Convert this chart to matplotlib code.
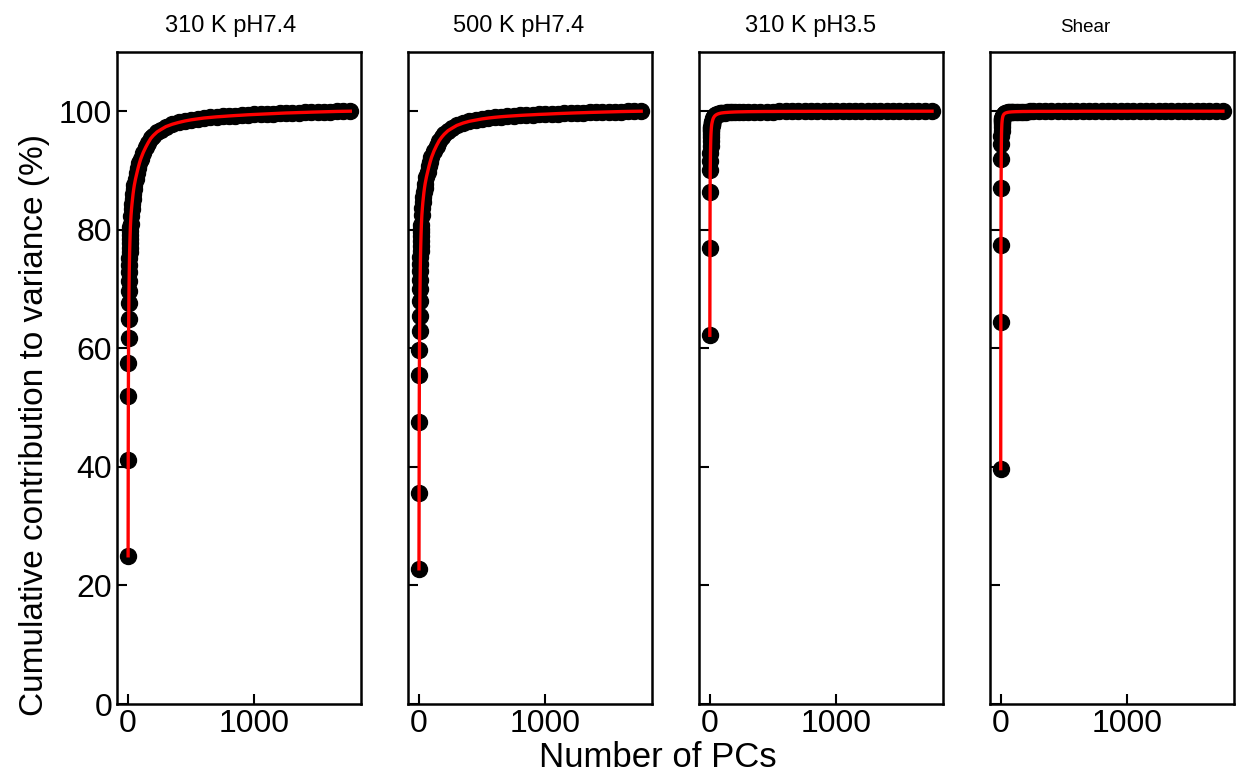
"""Cumulative variance explained by PCs for four simulation conditions."""

import matplotlib
matplotlib.use("Agg")
import matplotlib.pyplot as plt

plt.rcParams["font.family"] = ["Liberation Sans", "DejaVu Sans"]

titles = ["310 K pH7.4", "500 K pH7.4", "310 K pH3.5", "Shear"]
title_sizes = [17, 17, 17, 13.5]
title_x = [0.465, 0.455, 0.457, 0.39]

# PC index at which each cumulative value was read
pcs = list(range(1, 21)) + [24, 28, 32, 36, 40, 45, 50, 60, 70, 80, 90, 100,
                            120, 140, 160, 180, 200, 230, 260, 300] + \
      list(range(350, 1701, 50)) + [1758]

cum_310_ph74 = [
    25.0, 41.2, 52.0, 57.6, 61.8, 65.0, 67.6, 69.7, 71.4, 72.9,
    74.1, 75.2, 76.2, 77.0, 77.8, 78.5, 79.2, 79.8, 80.4, 80.9,
    82.4, 83.5, 84.4, 85.2, 86.0, 86.8, 87.5, 88.6, 89.5, 90.4,
    91.2, 91.9, 93.0, 93.9, 94.7, 95.4, 95.9, 96.5, 96.9, 97.4,
    97.8, 98.1, 98.35, 98.55, 98.7, 98.85, 98.95, 99.05, 99.12, 99.2,
    99.27, 99.33, 99.4, 99.45, 99.5, 99.55, 99.6, 99.65, 99.7, 99.73,
    99.77, 99.8, 99.84, 99.87, 99.9, 99.93, 99.96, 99.98, 100.0,
]
cum_500_ph74 = [
    22.8, 35.6, 47.6, 55.5, 59.7, 62.9, 65.5, 68.0, 70.0, 71.6,
    73.0, 74.3, 75.4, 76.4, 77.3, 78.1, 78.9, 79.6, 80.2, 80.8,
    82.5, 83.7, 84.7, 85.5, 86.3, 87.1, 87.8, 88.9, 89.8, 90.7,
    91.5, 92.2, 93.3, 94.2, 95.0, 95.6, 96.1, 96.7, 97.1, 97.6,
    98.0, 98.3, 98.5, 98.7, 98.85, 98.97, 99.07, 99.15, 99.22, 99.29,
    99.35, 99.4, 99.46, 99.5, 99.55, 99.6, 99.64, 99.68, 99.72, 99.75,
    99.79, 99.82, 99.85, 99.88, 99.91, 99.94, 99.96, 99.98, 100.0,
]
cum_310_ph35 = [
    62.2, 77.0, 86.4, 90.0, 91.6, 93.0, 94.1, 95.0, 95.7, 96.2,
    96.6, 96.9, 97.2, 97.4, 97.6, 97.75, 97.9, 98.0, 98.1, 98.2,
    98.55, 98.8, 98.95, 99.1, 99.2, 99.3, 99.38, 99.5, 99.58, 99.64,
    99.69, 99.72, 99.77, 99.8, 99.83, 99.85, 99.87, 99.89, 99.9, 99.92,
    99.93, 99.94, 99.95, 99.95, 99.96, 99.96, 99.97, 99.97, 99.97, 99.98,
    99.98, 99.98, 99.98, 99.99, 99.99, 99.99, 99.99, 99.99, 99.99, 99.99,
    100.0, 100.0, 100.0, 100.0, 100.0, 100.0, 100.0, 100.0, 100.0,
]
cum_shear = [
    39.7, 64.4, 77.4, 87.1, 92.0, 94.4, 95.8, 96.7, 97.3, 97.8,
    98.1, 98.35, 98.55, 98.7, 98.85, 98.95, 99.05, 99.12, 99.2, 99.25,
    99.42, 99.53, 99.6, 99.66, 99.7, 99.74, 99.77, 99.82, 99.85, 99.87,
    99.89, 99.9, 99.92, 99.93, 99.94, 99.95, 99.95, 99.96, 99.96, 99.97,
    99.97, 99.97, 99.98, 99.98, 99.98, 99.98, 99.99, 99.99, 99.99, 99.99,
    99.99, 99.99, 99.99, 99.99, 100.0, 100.0, 100.0, 100.0, 100.0, 100.0,
    100.0, 100.0, 100.0, 100.0, 100.0, 100.0, 100.0, 100.0, 100.0,
]
series = [cum_310_ph74, cum_500_ph74, cum_310_ph35, cum_shear]

fig, axes = plt.subplots(1, 4, figsize=(12.38, 7.75), dpi=100, sharey=True)
fig.subplots_adjust(left=0.0945, right=0.9968, bottom=0.0916, top=0.933,
                    wspace=0.19)

for ax, title, tsize, tx, values in zip(axes, titles, title_sizes, title_x,
                                        series):
    ax.plot(pcs, values, "o", color="black", markersize=11.5, zorder=2)
    ax.plot(pcs, values, "-", color="red", linewidth=2.4, zorder=3)
    ax.set_title(title, fontsize=tsize, pad=14, x=tx)
    ax.set_ylim(0, 110)
    ax.set_yticks([0, 20, 40, 60, 80, 100])
    ax.set_xticks([0, 1000])
    ax.tick_params(direction="in", length=7, width=1.5, labelsize=23)
    for spine in ax.spines.values():
        spine.set_linewidth(1.8)

fig.text(0.028, 0.452, "Cumulative contribution to variance (%)",
         rotation=90, fontsize=24, ha="center", va="center")
fig.text(0.531, 0.023, "Number of PCs", fontsize=25, ha="center",
         va="center")

fig.savefig("out.png", dpi=100)
plt.close(fig)
